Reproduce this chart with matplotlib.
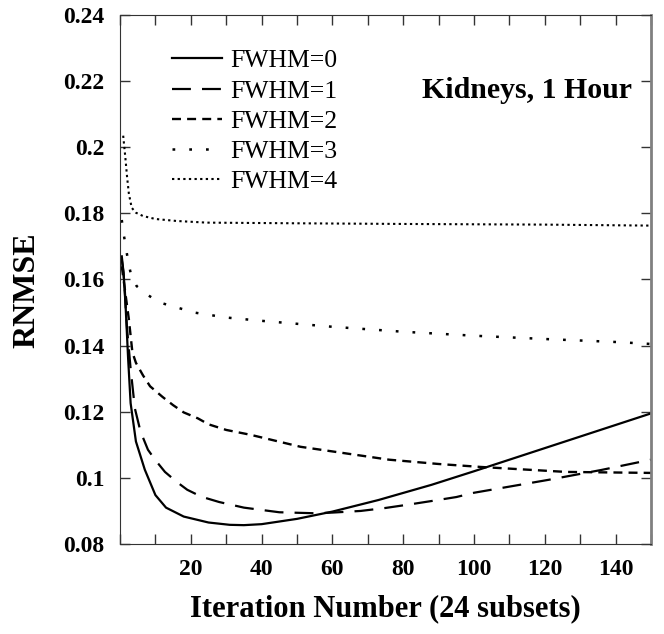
import numpy as np
import matplotlib
matplotlib.use('Agg')
import matplotlib.pyplot as plt
from matplotlib.ticker import MultipleLocator, FuncFormatter

# values
it0 = [0.5, 1, 1.4, 2.3, 3, 4.5, 7, 10, 13, 18, 25, 31, 35, 40, 45, 50, 60, 73, 88, 100, 110, 120, 130, 140, 150]
fwhm0 = [0.167, 0.162, 0.156, 0.136, 0.1226, 0.111, 0.1025, 0.0948, 0.091, 0.0883, 0.0865, 0.0858, 0.0857, 0.086,
         0.0868, 0.0876, 0.0898, 0.0933, 0.0979, 0.102, 0.1055, 0.109, 0.1125, 0.116, 0.1195]

it1 = [0.5, 1, 2, 3, 4.2, 5.8, 7.9, 9.9, 12.7, 16, 19, 23, 28, 35, 45, 55, 60, 68, 75, 82, 88, 95, 100, 121, 136,
       150]
fwhm1 = [0.166, 0.162, 0.145, 0.133, 0.121, 0.114, 0.1085, 0.1055, 0.1018, 0.0988, 0.0964, 0.0943, 0.0927, 0.091,
         0.0896, 0.0893, 0.0895, 0.090, 0.0909, 0.092, 0.093, 0.0942, 0.0955, 0.0994, 0.1024, 0.1055]

it2 = [0.5, 1, 2, 2.5, 3.5, 4.5, 6.5, 8.5, 12, 15, 18, 22, 25, 30, 37, 51, 60, 76, 90, 102, 126, 150]
fwhm2 = [0.164, 0.160, 0.152, 0.148, 0.138, 0.1348, 0.131, 0.1277, 0.1245, 0.122, 0.1198, 0.118, 0.1162, 0.1145,
         0.113, 0.1094, 0.108, 0.1055, 0.1042, 0.1033, 0.1018, 0.1015]

it3 = [0.5, 1, 2.3, 3.1, 4.7, 8, 11.3, 14.6, 21, 30, 40, 50, 60, 80, 100, 120, 140, 150]
fwhm3 = [0.178, 0.174, 0.1655, 0.1615, 0.158, 0.1552, 0.153, 0.152, 0.150, 0.1485, 0.1475, 0.1466, 0.1457, 0.1442,
         0.143, 0.142, 0.1411, 0.1405]

it4 = [0.9, 1.5, 2, 2.5, 3.3, 4.5, 6.5, 10, 16, 24.5, 50, 80, 100, 120, 150]
fwhm4 = [0.2035, 0.197, 0.191, 0.186, 0.1817, 0.1802, 0.1792, 0.1783, 0.1777, 0.1772, 0.177, 0.1768, 0.1767,
         0.1766, 0.1763]

serif = ['Liberation Serif', 'DejaVu Serif']

fig = plt.figure(figsize=(6.64, 6.34), dpi=100)
ax = fig.add_axes([120 / 664, 90 / 634, 531 / 664, 529 / 634])

ax.plot(it0, fwhm0, color='black', lw=1.6, linestyle='-', label='FWHM=0')
ax.plot(it1, fwhm1, color='black', lw=1.6, linestyle=(0, (8.5, 5)), label='FWHM=1')
ax.plot(it2, fwhm2, color='black', lw=1.7, linestyle=(0, (3.8, 2.6)), label='FWHM=2')
ax.plot(it3, fwhm3, color='black', lw=1.8, linestyle=(0, (1.1, 5.6)), label='FWHM=3')
ax.plot(it4, fwhm4, color='black', lw=1.5, linestyle=(0, (1.1, 1.6)), label='FWHM=4')

ax.set_xlim(0, 150)
ax.set_ylim(0.08, 0.24)
ax.xaxis.set_major_locator(MultipleLocator(10))
ax.xaxis.set_major_formatter(FuncFormatter(lambda v, p: '%d' % v if 0 < v < 150 and int(round(v)) % 20 == 0 else ''))
ax.set_yticks([0.08, 0.1, 0.12, 0.14, 0.16, 0.18, 0.2, 0.22, 0.24])
ax.set_yticklabels(['0.08', '0.1', '0.12', '0.14', '0.16', '0.18', '0.2', '0.22', '0.24'])
ax.tick_params(direction='in', length=7, width=1, top=True, right=True, color='#333333')
ax.tick_params(axis='x', pad=11)
ax.tick_params(axis='y', pad=11)
for lab in ax.get_xticklabels() + ax.get_yticklabels():
    lab.set_fontfamily(serif)
    lab.set_fontweight('bold')
    lab.set_fontsize(17)
for s in ['left', 'top', 'bottom']:
    ax.spines[s].set_color('#333333')
ax.spines['right'].set_color('#808080')
ax.spines['right'].set_linewidth(2)

ax.set_xlabel('Iteration Number (24 subsets)', fontfamily=serif, fontweight='bold', fontsize=22, labelpad=10)
ax.set_ylabel('RNMSE', fontfamily=serif, fontweight='bold', fontsize=23)
ax.yaxis.set_label_coords(-0.148, 0.48)

ax.text(0.964, 0.858, 'Kidneys, 1 Hour', transform=ax.transAxes, ha='right', va='center',
        fontfamily=serif, fontweight='bold', fontsize=21.5)

ax.legend(loc='upper left', bbox_to_anchor=(0.098, 0.935), frameon=False, borderpad=0, borderaxespad=0,
          prop={'family': serif, 'size': 18.5}, handlelength=1.95, handletextpad=0.32,
          labelspacing=0.28)

fig.savefig('out.png', dpi=100)
